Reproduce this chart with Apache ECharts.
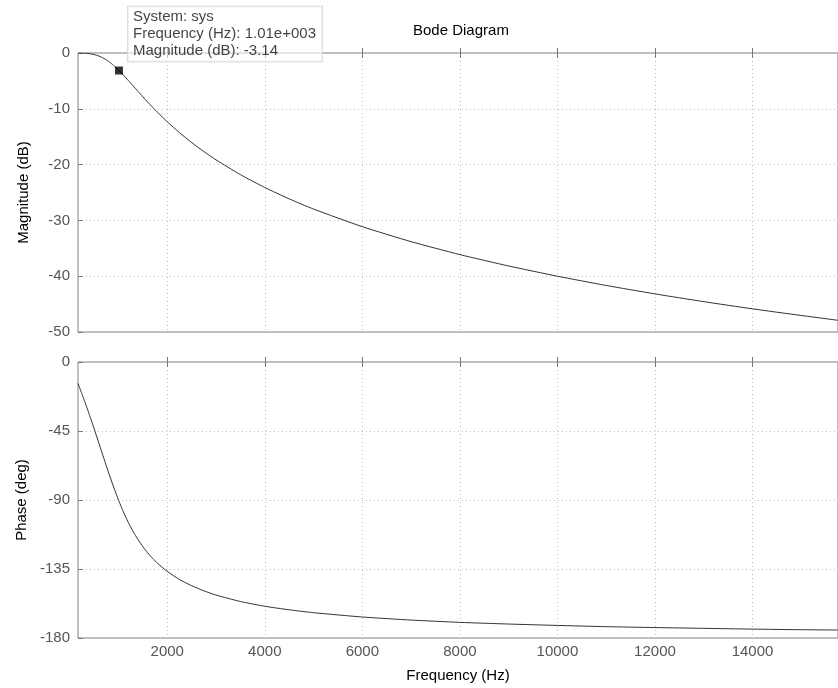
<!DOCTYPE html>
<html>
<head>
<meta charset="utf-8">
<title>Bode Diagram</title>
<script src="https://cdn.jsdelivr.net/npm/echarts@6/dist/echarts.min.js"></script>
<style>
  html, body { margin: 0; padding: 0; background: #fff; }
  #chart { width: 838px; height: 688px; }
</style>
</head>
<body>
<div id="chart"></div>
<script>
// Frequency samples (Hz) of the system response
const freqHz = [170, 200, 250, 300, 350, 400, 450, 500, 600, 700, 800, 900, 1000, 1010,
  1100, 1200, 1300, 1400, 1500, 1600, 1700, 1800, 2000, 2250, 2500, 2750, 3000, 3500,
  4000, 4500, 5000, 6000, 7000, 8000, 9000, 10000, 11000, 12000, 13000, 14000, 15000, 15750];

// Magnitude (dB) at each frequency
const magnitudeDb = [-0.01, -0.01, -0.02, -0.04, -0.07, -0.12, -0.19, -0.28, -0.55, -0.96,
  -1.52, -2.23, -3.05, -3.14, -3.95, -4.91, -5.89, -6.88, -7.85, -8.81, -9.73, -10.63,
  -12.32, -14.27, -16.04, -17.66, -19.15, -21.80, -24.10, -26.14, -27.97, -31.13, -33.81,
  -36.13, -38.17, -40.00, -41.66, -43.17, -44.56, -45.85, -47.04, -47.90];

// Phase (deg) at each frequency
const phaseDeg = [-14.0, -16.5, -20.7, -25.1, -29.5, -34.1, -38.7, -43.4, -53.1, -62.8,
  -72.4, -81.5, -90.0, -90.8, -97.7, -104.5, -110.5, -115.8, -120.4, -124.5, -128.1,
  -131.2, -136.6, -141.8, -145.9, -149.2, -152.0, -156.2, -159.3, -161.6, -163.5, -166.3,
  -168.3, -169.8, -170.9, -171.8, -172.6, -173.2, -173.7, -174.2, -174.6, -174.8];

// Axis ticks
const freqTicks = [2000, 4000, 6000, 8000, 10000, 12000, 14000];
const magTicks = [0, -10, -20, -30, -40, -50];
const phaseTicks = [0, -45, -90, -135, -180];

// Data tip on the magnitude curve
const tipSystem = 'sys';
const tipFreqHz = 1010;
const tipMagDb = -3.14;

const FONT = '"Liberation Sans", Arial, Helvetica, sans-serif';
const X_MIN = 170, X_MAX = 15753;

function matlabExp(v) {
  const e = Math.floor(Math.log10(Math.abs(v)));
  const m = (v / Math.pow(10, e)).toFixed(2);
  const sign = e < 0 ? '-' : '+';
  return m + 'e' + sign + String(Math.abs(e)).padStart(3, '0');
}

const dotted = { type: [1, 3], color: '#bdbdbd', width: 1 };

function freqAxis(gridIndex, position, withLabels) {
  return {
    type: 'value', gridIndex, position,
    min: X_MIN, max: X_MAX, splitNumber: 8,
    axisLine: { show: false },
    axisTick: { show: true, inside: true, length: 5, lineStyle: { color: '#777' }, customValues: freqTicks },
    axisLabel: {
      show: withLabels, customValues: freqTicks, margin: 6,
      formatter: (v) => String(v),
      color: '#555', fontSize: 15, fontFamily: FONT
    },
    splitLine: { show: position === 'bottom', lineStyle: dotted },
    name: withLabels ? 'Frequency (Hz)' : '',
    nameLocation: 'middle', nameGap: 30,
    nameTextStyle: { color: '#000', fontSize: 15, fontFamily: FONT }
  };
}

function valueAxis(gridIndex, ticks, step, name) {
  return {
    type: 'value', gridIndex, position: 'left',
    min: Math.min(...ticks), max: Math.max(...ticks), interval: step,
    axisLine: { show: false },
    axisTick: { show: true, inside: true, length: 5, lineStyle: { color: '#777' } },
    axisLabel: { color: '#555', fontSize: 15, fontFamily: FONT, margin: 8 },
    splitLine: { show: true, lineStyle: dotted },
    name, nameLocation: 'middle', nameGap: 47,
    nameTextStyle: { color: '#000', fontSize: 15, fontFamily: FONT }
  };
}

const magPoints = freqHz.map((f, i) => [f, magnitudeDb[i]]);
const phasePoints = freqHz.map((f, i) => [f, phaseDeg[i]]);

const tipText = [
  'System: ' + tipSystem,
  'Frequency (Hz): ' + matlabExp(tipFreqHz),
  'Magnitude (dB): ' + tipMagDb.toFixed(2)
].join('\n');

const chart = echarts.init(document.getElementById('chart'), null, { renderer: 'canvas' });
chart.setOption({
  animation: false,
  backgroundColor: '#fff',
  graphic: [{
    type: 'text', left: 413, top: 23,
    style: { text: 'Bode Diagram', fill: '#000', font: '15px ' + FONT }
  }],
  grid: [
    { left: 78, top: 53, right: -2, height: 279, show: true, borderColor: '#808080', borderWidth: 1, backgroundColor: '#fff' },
    { left: 78, top: 362, right: -2, height: 276, show: true, borderColor: '#808080', borderWidth: 1, backgroundColor: '#fff' }
  ],
  xAxis: [
    freqAxis(0, 'bottom', false),
    freqAxis(0, 'top', false),
    freqAxis(1, 'bottom', true),
    freqAxis(1, 'top', false)
  ],
  yAxis: [
    valueAxis(0, magTicks, 10, 'Magnitude (dB)'),
    valueAxis(1, phaseTicks, 45, 'Phase (deg)')
  ],
  series: [
    {
      type: 'line', xAxisIndex: 0, yAxisIndex: 0, data: magPoints,
      showSymbol: false, smooth: 0.2,
      lineStyle: { color: '#333', width: 1 }
    },
    {
      type: 'line', xAxisIndex: 2, yAxisIndex: 1, data: phasePoints,
      showSymbol: false, smooth: 0.2,
      lineStyle: { color: '#333', width: 1 }
    },
    {
      type: 'scatter', xAxisIndex: 0, yAxisIndex: 0,
      data: [[tipFreqHz, tipMagDb]],
      symbol: 'rect', symbolSize: 8, z: 5,
      itemStyle: { color: '#000' },
      label: {
        show: true, position: [13, -60], align: 'left', verticalAlign: 'top',
        formatter: tipText,
        color: '#111', fontSize: 15, lineHeight: 17, fontFamily: FONT,
        backgroundColor: 'rgba(255,255,255,0.72)',
        borderColor: '#d4d4d4', borderWidth: 1,
        padding: [2, 6, 2, 5]
      }
    }
  ]
});
</script>
</body>
</html>
